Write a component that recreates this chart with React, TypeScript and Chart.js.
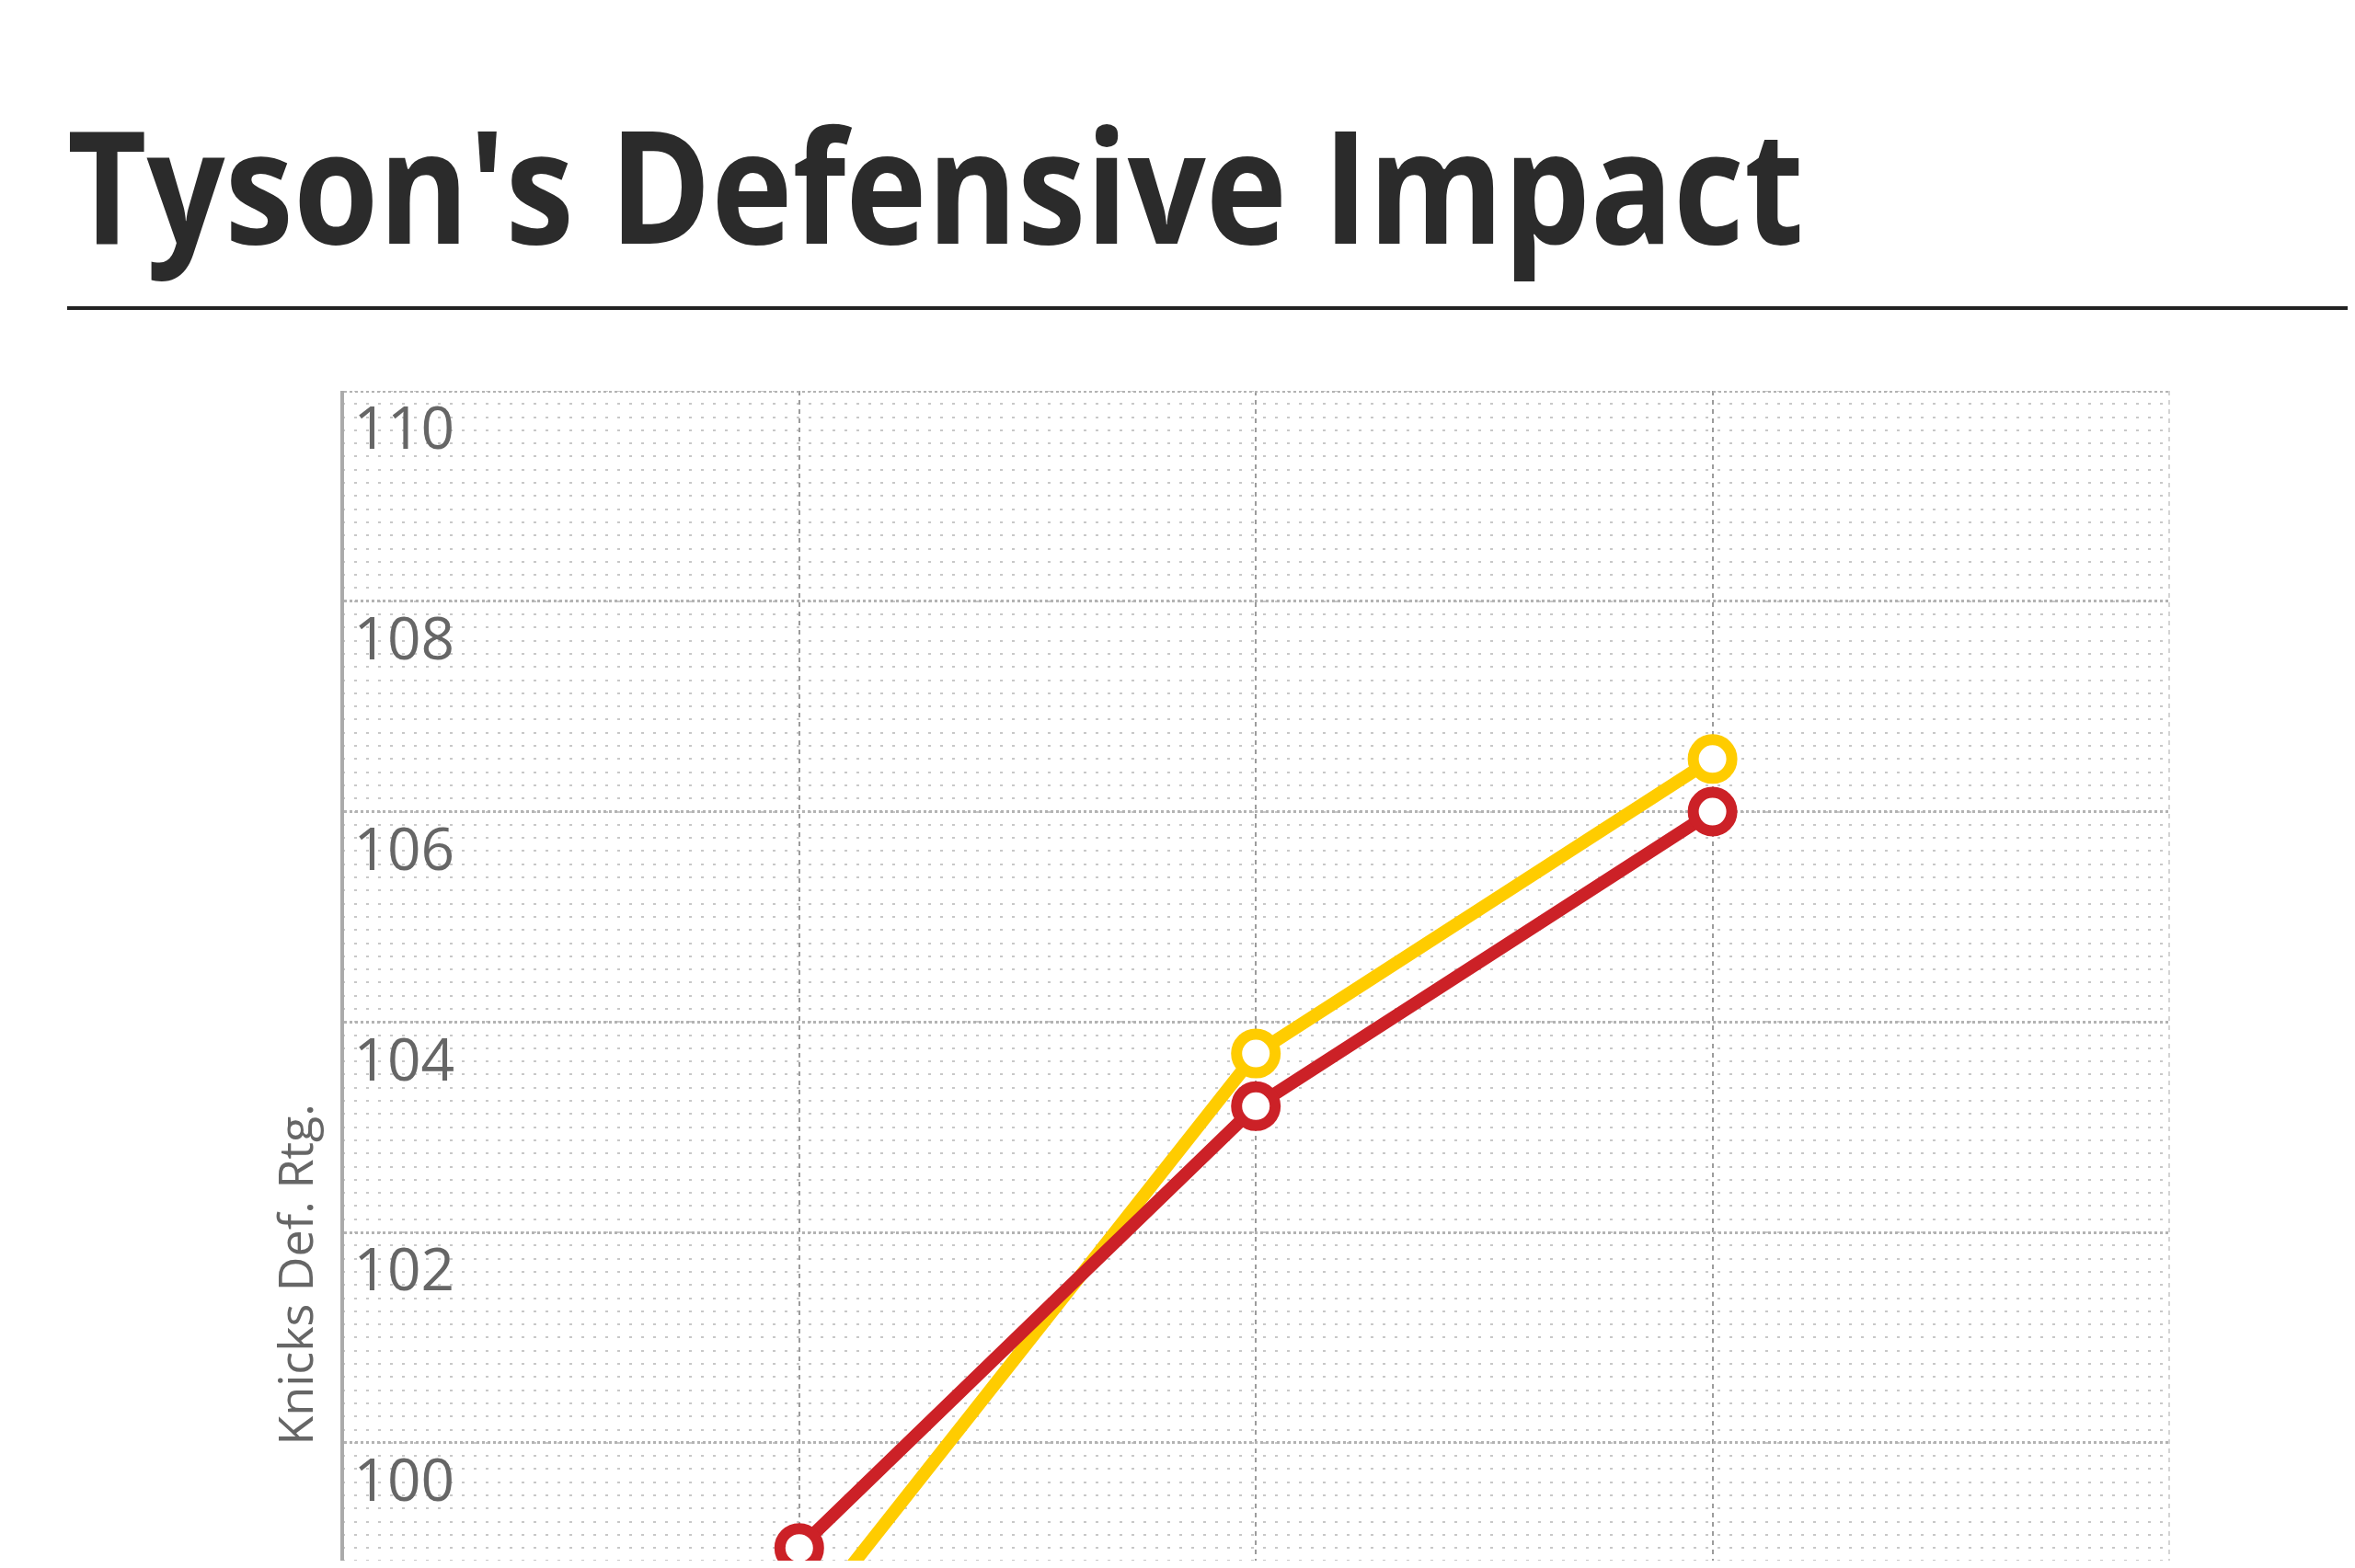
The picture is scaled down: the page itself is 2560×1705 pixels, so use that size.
import { Chart, registerables } from "chart.js"
import { useEffect, useLayoutEffect, useRef, useState } from "react"

Chart.register(...registerables)

const SEASONS = ["", "2011-12", "2012-13", "2013-14", ""]
const WITH_TYSON = [null, 99.0, 103.2, 106.0, null]
const WITHOUT_TYSON = [null, 98.2, 103.7, 106.5, null]
const Y_MIN = 93.2
const Y_MAX = 110
const Y_STEP = 2
const Y_MINOR_STEP = 0.125

const SANS = '"Open Sans", sans-serif'
const TITLE_WIDTH = 1888

export default function App() {
	const canvasRef = useRef<HTMLCanvasElement>(null)
	const titleRef = useRef<HTMLSpanElement>(null)
	const [titleScale, setTitleScale] = useState(1)

	useLayoutEffect(() => {
		if (!titleRef.current) return
		const w = titleRef.current.offsetWidth
		if (w > 0) setTitleScale(TITLE_WIDTH / w)
	}, [])

	useEffect(() => {
		if (!canvasRef.current) return

		const chart = new Chart(canvasRef.current, {
			type: "line",
			data: {
				labels: SEASONS,
				datasets: [
					{
						label: "With Tyson",
						data: WITH_TYSON,
						borderColor: "#cc2127",
						backgroundColor: "#ffffff",
						borderWidth: 14,
						pointRadius: 21,
						pointBorderWidth: 12,
						pointBackgroundColor: "#ffffff",
						pointBorderColor: "#cc2127",
						order: 0,
					},
					{
						label: "Without Tyson",
						data: WITHOUT_TYSON,
						borderColor: "#ffcc00",
						backgroundColor: "#ffffff",
						borderWidth: 14,
						pointRadius: 21,
						pointBorderWidth: 12,
						pointBackgroundColor: "#ffffff",
						pointBorderColor: "#ffcc00",
						order: 1,
					},
				],
			},
			options: {
				animation: false,
				responsive: true,
				maintainAspectRatio: false,
				layout: { autoPadding: false, padding: { left: 282, right: 194, top: 0, bottom: 0 } },
				plugins: { legend: { display: false }, tooltip: { enabled: false } },
				scales: {
					x: {
						type: "category",
						offset: false,
						grid: {
							color: (ctx) => (ctx.index === SEASONS.length - 1 ? "#d4d4d4" : "#9c9c9c"),
							lineWidth: 2,
							drawTicks: false,
						},
						border: { display: true, color: "#aaaaaa", width: 4, dash: [5, 5] },
						ticks: { font: { family: SANS, size: 52 }, color: "#666666", padding: 12 },
						afterFit: (scale) => {
							scale.paddingLeft = 0
							scale.paddingRight = 0
						},
					},
					y: {
						type: "linear",
						position: "left",
						min: Y_MIN,
						max: Y_MAX,
						grid: { color: "#b3b3b3", lineWidth: 3, drawTicks: false },
						border: { display: true, color: "#aaaaaa", width: 4, dash: [3, 3] },
						ticks: {
							stepSize: Y_STEP,
							includeBounds: false,
							mirror: true,
							padding: 12,
							labelOffset: 45,
							color: "#666666",
							font: { family: SANS, size: 64 },
						},
						title: {
							display: true,
							text: "Knicks Def. Rtg.",
							color: "#666666",
							font: { family: SANS, size: 52 },
							padding: { top: 4, bottom: -8 },
						},
						afterFit: (scale) => {
							scale.paddingTop = 0
							scale.paddingBottom = 0
						},
					},
					yMinor: {
						type: "linear",
						position: "left",
						min: Y_MIN,
						max: Y_MAX,
						ticks: { display: false, stepSize: Y_MINOR_STEP },
						grid: { color: "#c8c8c8", lineWidth: 2, drawTicks: false, z: -2 },
						border: { display: false, dash: [3, 10] },
					},
				},
			},
		})

		return () => {
			chart.destroy()
		}
	}, [])

	return (
		<div style={{ position: "relative", width: 2544, height: 1689, overflow: "hidden", background: "#fff" }}>
			<span
				ref={titleRef}
				style={{
					position: "absolute",
					left: 65,
					top: 105,
					fontFamily: SANS,
					fontWeight: 700,
					fontSize: 171,
					lineHeight: 1,
					color: "#2b2b2b",
					whiteSpace: "nowrap",
					transformOrigin: "left top",
					transform: `scaleX(${titleScale})`,
				}}
			>
				Tyson's Defensive Impact
			</span>
			<div style={{ position: "absolute", left: 65, top: 325, width: 2490, height: 4, background: "#222" }} />
			<div style={{ position: "absolute", left: 0, top: 417, width: 2544, height: 2008 }}>
				<canvas ref={canvasRef} aria-label="Knicks defensive rating line chart" />
			</div>
		</div>
	)
}
